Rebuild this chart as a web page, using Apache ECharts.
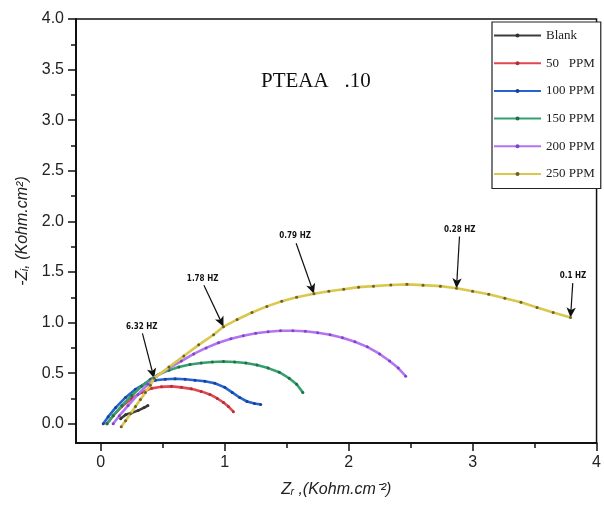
<!DOCTYPE html>
<html>
<head>
<meta charset="utf-8">
<script src="https://cdn.jsdelivr.net/npm/echarts@6/dist/echarts.min.js"></script>
<style>
  html, body { margin: 0; padding: 0; background: #fff; }
  #chart { width: 604px; height: 510px; }
</style>
</head>
<body>
<div id="chart"></div>
<script>
// Nyquist impedance curves, Kohm.cm^2
const seriesNames = ['Blank', '50   PPM', '100 PPM', '150 PPM', '200 PPM', '250 PPM'];

const zrBlank = [0.16, 0.20, 0.25, 0.30, 0.35, 0.38];
const ziBlank = [0.05, 0.09, 0.11, 0.13, 0.16, 0.18];

const zr50 = [0.05, 0.10, 0.17, 0.25, 0.33, 0.41, 0.49, 0.57, 0.65, 0.73, 0.81, 0.88, 0.94, 0.99, 1.03, 1.07];
const zi50 = [0.00, 0.08, 0.17, 0.25, 0.31, 0.35, 0.365, 0.37, 0.36, 0.345, 0.32, 0.29, 0.25, 0.21, 0.17, 0.12];

const zr100 = [0.02, 0.06, 0.12, 0.20, 0.28, 0.36, 0.44, 0.52, 0.60, 0.68, 0.76, 0.84, 0.92, 1.00, 1.06, 1.12, 1.18, 1.24, 1.29];
const zi100 = [0.00, 0.07, 0.16, 0.26, 0.34, 0.40, 0.43, 0.44, 0.445, 0.44, 0.43, 0.42, 0.40, 0.36, 0.31, 0.26, 0.22, 0.20, 0.19];

const zr150 = [0.05, 0.10, 0.17, 0.25, 0.33, 0.40, 0.47, 0.55, 0.63, 0.72, 0.81, 0.90, 0.99, 1.08, 1.17, 1.26, 1.35, 1.44, 1.52, 1.58, 1.63];
const zi150 = [0.00, 0.08, 0.18, 0.28, 0.37, 0.44, 0.49, 0.53, 0.56, 0.585, 0.60, 0.61, 0.615, 0.61, 0.60, 0.58, 0.55, 0.51, 0.45, 0.39, 0.31];

const zr200 = [0.10, 0.15, 0.22, 0.30, 0.38, 0.45, 0.55, 0.65, 0.75, 0.85, 0.95, 1.05, 1.15, 1.25, 1.35, 1.45, 1.55, 1.65, 1.75, 1.85, 1.95, 2.05, 2.15, 2.25, 2.33, 2.40, 2.46];
const zi200 = [0.00, 0.08, 0.18, 0.29, 0.39, 0.47, 0.55, 0.62, 0.69, 0.75, 0.80, 0.84, 0.87, 0.895, 0.91, 0.92, 0.92, 0.915, 0.90, 0.88, 0.85, 0.81, 0.76, 0.69, 0.62, 0.55, 0.47];

const zr250 = [0.165, 0.20, 0.24, 0.28, 0.32, 0.36, 0.40, 0.43, 0.55, 0.67, 0.79, 0.91, 0.99, 1.10, 1.22, 1.34, 1.46, 1.58, 1.72, 1.84, 1.96, 2.08, 2.20, 2.34, 2.47, 2.60, 2.74, 2.87, 3.00, 3.13, 3.26, 3.39, 3.52, 3.65, 3.79];
const zi250 = [-0.03, 0.03, 0.10, 0.17, 0.24, 0.31, 0.38, 0.45, 0.56, 0.67, 0.78, 0.88, 0.96, 1.03, 1.10, 1.16, 1.21, 1.25, 1.285, 1.31, 1.33, 1.35, 1.36, 1.372, 1.378, 1.37, 1.36, 1.34, 1.31, 1.28, 1.24, 1.20, 1.15, 1.10, 1.05];

// frequency markers on the 250 PPM curve (index into zr250 / zi250)
const freqLabels = ['6.32 HZ', '1.78 HZ', '0.79 HZ', '0.28 HZ', '0.1 HZ'];
const freqIndex = [7, 12, 18, 27, 34];

const xTicks = [0, 1, 2, 3, 4];
const xMinorTicks = [0.5, 1.5, 2.5, 3.5];
const yTicks = [0, 0.5, 1.0, 1.5, 2.0, 2.5, 3.0, 3.5, 4.0];
const yMinorTicks = [0.25, 0.75, 1.25, 1.75, 2.25, 2.75, 3.25, 3.75];

const zrAll = [zrBlank, zr50, zr100, zr150, zr200, zr250];
const ziAll = [ziBlank, zi50, zi100, zi150, zi200, zi250];

const lineColors = ['#3c3c3c', '#e2474f', '#2563cf', '#35a06e', '#b474f2', '#d9c84c'];
const dotColors  = ['#333333', '#b03038', '#1a3f96', '#1f6e46', '#7a48c0', '#6a6030'];

// arrow tails, as offsets from the marked point (data units)
const arrowOffsets = [[-0.094, 0.443], [-0.158, 0.409], [-0.144, 0.499], [0.024, 0.51], [0.018, 0.34]];

const pairs = (xs, ys) => xs.map((x, i) => [x, ys[i]]);

const arrowLines = freqLabels.map((label, k) => {
  const i = freqIndex[k];
  const tip = [zr250[i], zi250[i]];
  const tail = [tip[0] + arrowOffsets[k][0], tip[1] + arrowOffsets[k][1]];
  return [
    { coord: tail, label: { formatter: label } },
    { coord: tip }
  ];
});

const series = seriesNames.map((name, s) => {
  const item = {
    name: name,
    type: 'line',
    data: pairs(zrAll[s], ziAll[s]),
    symbol: 'circle',
    symbolSize: 3,
    showAllSymbol: true,
    lineStyle: { color: lineColors[s], width: 2.6 },
    itemStyle: { color: dotColors[s] },
    z: 2 + s
  };
  if (s === seriesNames.length - 1) {
    item.markLine = {
      silent: true,
      symbol: ['none', 'arrow'],
      symbolSize: [7, 10],
      lineStyle: { color: '#111', width: 1.2, type: 'solid' },
      label: {
        show: true,
        position: 'start',
        distance: 3,
        color: '#111',
        fontSize: 8,
        fontWeight: 'bold',
        fontFamily: 'Liberation Sans Narrow, DejaVu Sans Condensed, sans-serif'
      },
      emphasis: { disabled: true },
      data: arrowLines
    };
  }
  return item;
});

const axisFont = { color: '#222', fontSize: 16, fontFamily: 'Liberation Sans, Arial, sans-serif' };
const nameFont = { fontStyle: 'italic', fontSize: 16, color: '#222', fontFamily: 'Liberation Sans, Arial, sans-serif' };

const chart = echarts.init(document.getElementById('chart'));
chart.setOption({
  animation: false,
  backgroundColor: '#fff',
  title: {
    text: 'PTEAA   .10',
    left: 256,
    top: 66,
    textStyle: { fontFamily: 'Liberation Serif, serif', fontWeight: 'normal', fontSize: 21, color: '#111' }
  },
  legend: {
    data: seriesNames,
    orient: 'vertical',
    left: 492,
    top: 22,
    itemWidth: 47,
    itemHeight: 5,
    itemGap: 14.7,
    padding: [7, 6, 8, 1],
    borderColor: '#222',
    borderWidth: 1.2,
    backgroundColor: '#fff',
    textStyle: { fontFamily: 'Liberation Serif, serif', fontSize: 13, color: '#222' }
  },
  grid: {
    left: 76, right: 2, top: 19, bottom: 67,
    show: true, borderColor: '#111', borderWidth: 1.5
  },
  xAxis: [{
    type: 'value',
    min: -0.2, max: 4,
    name: 'Zᵣ ,(Kohm.cm⁻²)',
    nameLocation: 'middle',
    nameGap: 39,
    nameTextStyle: nameFont,
    axisLine: { show: true, onZero: false, lineStyle: { color: '#111', width: 2 } },
    axisTick: { show: true, inside: false, length: 8, customValues: xTicks, lineStyle: { color: '#111', width: 1.5 } },
    axisLabel: Object.assign({ customValues: xTicks, margin: 12 }, axisFont),
    splitLine: { show: false }
  }, {
    type: 'value',
    min: -0.2, max: 4,
    position: 'bottom',
    axisLine: { show: false, onZero: false },
    axisTick: { show: true, length: 5, customValues: xMinorTicks, lineStyle: { color: '#111', width: 1.5 } },
    axisLabel: { show: false },
    splitLine: { show: false }
  }],
  yAxis: [{
    type: 'value',
    min: -0.19, max: 4,
    name: '-Zᵢ, (Kohm.cm²)',
    nameLocation: 'middle',
    nameGap: 45,
    nameRotate: 90,
    nameTextStyle: nameFont,
    axisLine: { show: true, onZero: false, lineStyle: { color: '#111', width: 2 } },
    axisTick: { show: true, inside: false, length: 8, customValues: yTicks, lineStyle: { color: '#111', width: 1.5 } },
    axisLabel: Object.assign({ customValues: yTicks, margin: 12, formatter: v => v.toFixed(1) }, axisFont),
    splitLine: { show: false }
  }, {
    type: 'value',
    min: -0.19, max: 4,
    position: 'left',
    axisLine: { show: false, onZero: false },
    axisTick: { show: true, length: 5, customValues: yMinorTicks, lineStyle: { color: '#111', width: 1.5 } },
    axisLabel: { show: false },
    splitLine: { show: false }
  }],
  series: series
});
</script>
</body>
</html>
